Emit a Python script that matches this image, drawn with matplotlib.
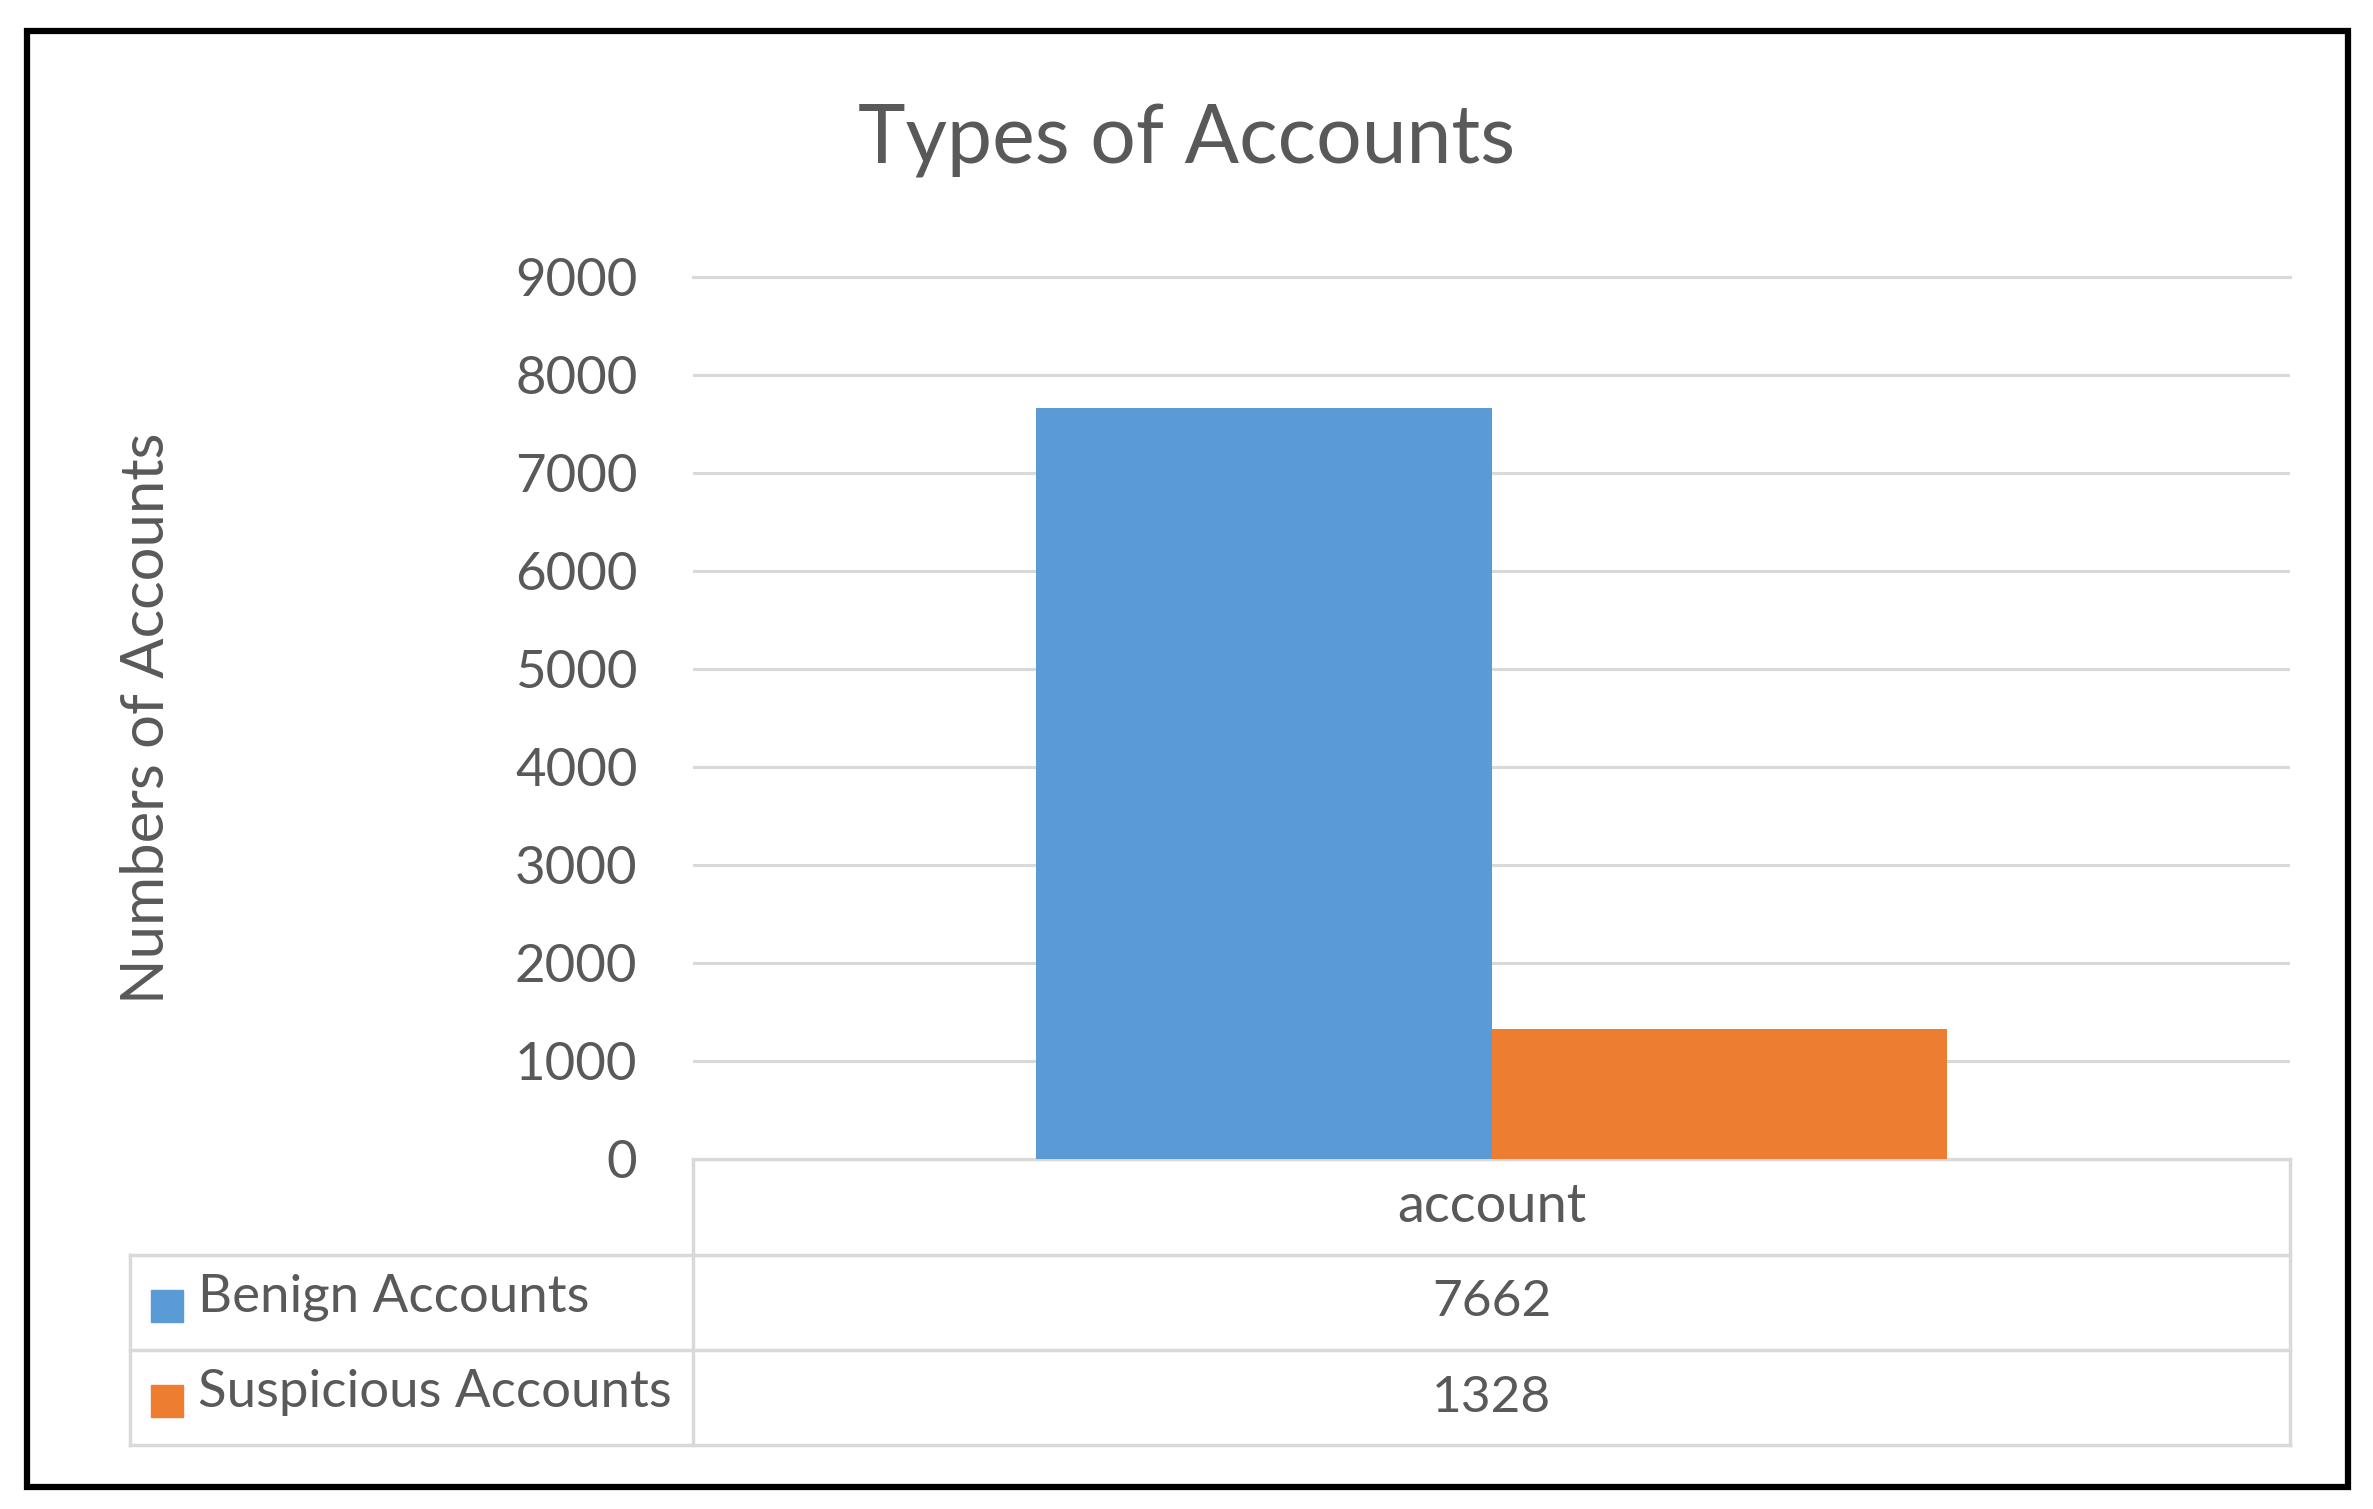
import numpy as np
import matplotlib.pyplot as plt
from matplotlib.patches import Rectangle

plt.rcParams['font.family'] = ['Lato', 'DejaVu Sans']

series = ['Benign Accounts', 'Suspicious Accounts']
values = [7662, 1328]
category = 'account'
colors = ['#5B9BD5', '#ED7D31']
yticks = [0, 1000, 2000, 3000, 4000, 5000, 6000, 7000, 8000, 9000]

W, H = 2373, 1509
txt = '#595959'
grid = '#D9D9D9'


def fx(px):
    return px / W


def fy(py):
    return 1 - py / H


fig = plt.figure(figsize=(W / 100, H / 100), dpi=100)

# plot area
ax = fig.add_axes([fx(693), fy(1159), fx(2290) - fx(693), fy(277) - fy(1159)])
width = 0.285
x = np.array([0.0])
for i, (name, v) in enumerate(zip(series, values)):
    ax.bar(x + (i - 0.5) * width, [v], width, color=colors[i], zorder=3)
ax.set_xlim(-0.5, 0.5)
ax.set_ylim(0, 9000)
ax.set_yticks(yticks)
ax.set_yticklabels([str(t) for t in yticks])
ax.set_xticks([])
ax.tick_params(axis='y', length=0, pad=40, labelsize=38, labelcolor=txt)
ax.yaxis.grid(True, color=grid, lw=2.2, zorder=0)
for s in ['left', 'right', 'bottom']:
    ax.spines[s].set_visible(False)
ax.spines['top'].set_color(grid)
ax.spines['top'].set_linewidth(2.2)

# title and y label
fig.text(0.5, fy(141), 'Types of Accounts', ha='center', va='center',
         fontsize=58, color=txt)
fig.text(fx(147), fy(718), 'Numbers of Accounts', ha='center', va='center',
         rotation=90, fontsize=43, color=txt)

# data table below the plot
tab = fig.add_axes([0, 0, 1, 1], zorder=-1)
tab.set_xlim(0, W)
tab.set_ylim(H, 0)
tab.axis('off')
rows = [1159, 1255, 1350, 1445]
xl, xm, xr = 130, 693, 2290
lw = 2.5
tab.plot([xm, xr], [rows[0], rows[0]], color=grid, lw=lw)
for r in rows[1:]:
    tab.plot([xl, xr], [r, r], color=grid, lw=lw)
tab.plot([xl, xl], [rows[1], rows[3]], color=grid, lw=lw)
tab.plot([xm, xm], [rows[0], rows[3]], color=grid, lw=lw)
tab.plot([xr, xr], [rows[0], rows[3]], color=grid, lw=lw)
xc = (xm + xr) / 2
tab.text(xc, (rows[0] + rows[1]) / 2, category, ha='center', va='center',
         fontsize=39, color=txt)
for i, (name, v) in enumerate(zip(series, values)):
    yc = (rows[i + 1] + rows[i + 2]) / 2
    tab.add_patch(Rectangle((151, yc - 13), 32, 32, color=colors[i]))
    tab.text(198, yc - 5, name, ha='left', va='center', fontsize=38, color=txt)
    tab.text(xc, yc, str(v), ha='center', va='center', fontsize=37, color=txt)

# outer black frame
fig.patches.append(Rectangle((fx(27), fy(1487)), fx(2348) - fx(27), fy(31) - fy(1487),
                             transform=fig.transFigure, fill=False,
                             edgecolor='black', lw=4.5))

fig.savefig('out.png', dpi=100)
